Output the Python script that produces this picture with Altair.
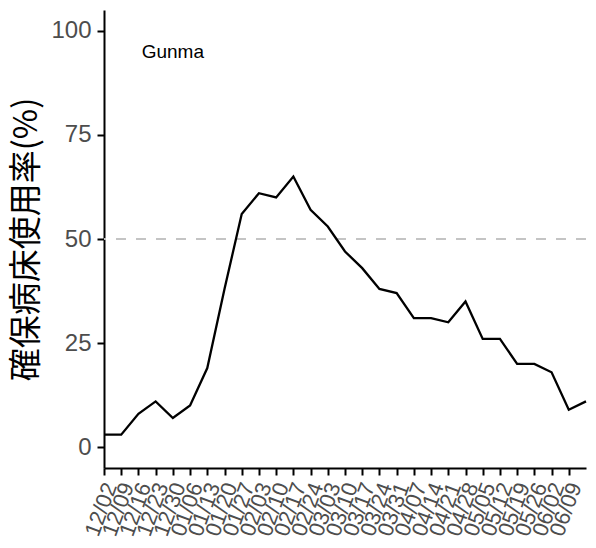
import altair as alt
import pandas as pd

dates = ["12/02", "12/09", "12/16", "12/23", "12/30",
         "01/06", "01/13", "01/20", "01/27",
         "02/03", "02/10", "02/17", "02/24",
         "03/03", "03/10", "03/17", "03/24", "03/31",
         "04/07", "04/14", "04/21", "04/28",
         "05/05", "05/12", "05/19", "05/26",
         "06/02", "06/09", "06/16"]
values = [3, 3, 8, 11, 7, 10, 19, 38, 56, 61, 60, 65, 57, 53, 47, 43, 38, 37,
          31, 31, 30, 35, 26, 26, 20, 20, 18, 9, 11]
tick_labels = dates[:28]
y_ticks = [0, 25, 50, 75, 100]
threshold = [50]
label_name = ["Gunma"]

df = pd.DataFrame({"date": dates, "rate": values})

x_enc = alt.X("date:O", sort=dates,
              scale=alt.Scale(type="point", padding=0, domain=dates),
              axis=alt.Axis(values=tick_labels, title=None, labelAngle=290,
                            labelAlign="right", labelBaseline="middle",
                            labelFontSize=22, labelColor="#4D4D4D",
                            labelFont="Liberation Sans", tickSize=7,
                            tickWidth=2, tickColor="black", domainColor="black",
                            domainWidth=2, labelPadding=8, labelOffset=6,
                            labelOverlap=False))
y_enc = alt.Y("rate:Q",
              scale=alt.Scale(domain=[-5, 105], nice=False, zero=False),
              axis=alt.Axis(values=y_ticks, title="確保病床使用率(%)",
                            titleFont="Noto Sans CJK JP", titleFontSize=33,
                            titleFontWeight="normal", titleColor="black",
                            titlePadding=7,
                            labelFontSize=24, labelColor="#4D4D4D",
                            labelFont="Liberation Sans", tickSize=7,
                            tickWidth=2, tickColor="black", domainColor="black",
                            domainWidth=2, labelPadding=6, grid=False))

line = alt.Chart(df).mark_line(color="black", strokeWidth=2.3).encode(x=x_enc, y=y_enc)

rule = alt.Chart(pd.DataFrame({"y": threshold})).mark_rule(
    color="#C4C4C4", strokeWidth=2, strokeDash=[10, 10]
).encode(y=alt.Y("y:Q"))

text = alt.Chart(pd.DataFrame({"label": label_name, "x": ["12/30"], "y": [95]})).mark_text(
    fontSize=19, font="Liberation Sans", color="black", align="center", baseline="middle"
).encode(x=alt.X("x:O"), y=alt.Y("y:Q"), text="label:N")

chart = alt.layer(rule, line, text).properties(
    width=482, height=458,
    autosize=alt.AutoSizeParams(type="none"),
    padding={"left": 96, "top": 2, "right": 2, "bottom": 72},
).configure_view(stroke=None).configure_axis(grid=False)

chart.save("out.html", embed_options={"renderer": "svg", "actions": False})
